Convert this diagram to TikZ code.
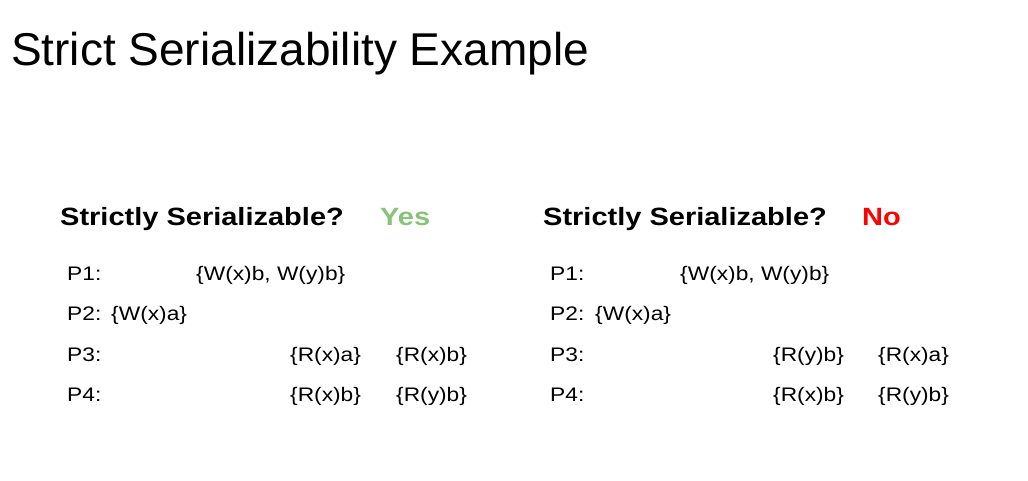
\documentclass[tikz,border=0pt]{standalone}
\usepackage{fontspec}
\setmainfont{Liberation Sans}
\newfontfamily\slidefont[FakeStretch=1.16]{Liberation Sans}
\usetikzlibrary{positioning}
\definecolor[named]{YesGreen}{RGB}{137,194,120}
\definecolor[named]{NoRed}{RGB}{255,0,0}
\tikzset{title/.style ={
		anchor=base west,
		inner sep=0pt,
		font=\fontsize{46}{50}\selectfont,
    },
    question/.style={
		anchor=base west,
		inner sep=0pt,
		font=\slidefont\bfseries\fontsize{25}{28}\selectfont,
    },
    yes/.style={
		question,
		text=YesGreen,
    },
    no/.style={
		question,
		text=NoRed,
    },
    proc/.style ={
		anchor=base west,
		inner sep=0pt,
		font=\slidefont\fontsize{19.6}{22}\selectfont,
    },
    op/.style ={
		proc,
    }}

\begin{document}
\begin{tikzpicture} [x=1pt,y=-1pt]
	\useasboundingbox (0,0) rectangle (1028,480);
	\node[title] (title) at (11,65) {Strict Serializability Example};
	% left history
	\node[question] (qleft) at (60,225.5) {Strictly Serializable?};
	\node[yes] (ansleft) at (380,225.5) {Yes};
	\node[proc] (lp1) at (67,280) {P1:};
	\node[proc] (lp2) at (67,320.5) {P2:};
	\node[proc] (lp3) at (67,361) {P3:};
	\node[proc] (lp4) at (67,401.5) {P4:};
	\node[op] (lw1) at (196,280) {\{W(x)b, W(y)b\}};
	\node[op] (lw2) at (111,320.5) {\{W(x)a\}};
	\node[op] (lr1) at (290,361) {\{R(x)a\}};
	\node[op] (lr2) at (396,361) {\{R(x)b\}};
	\node[op] (lr3) at (290,401.5) {\{R(x)b\}};
	\node[op] (lr4) at (396,401.5) {\{R(y)b\}};
	% right history
	\node[question] (qright) at (543,225.5) {Strictly Serializable?};
	\node[no] (ansright) at (862,225.5) {No};
	\node[proc] (rp1) at (550,280) {P1:};
	\node[proc] (rp2) at (550,320.5) {P2:};
	\node[proc] (rp3) at (550,361) {P3:};
	\node[proc] (rp4) at (550,401.5) {P4:};
	\node[op] (rw1) at (680,280) {\{W(x)b, W(y)b\}};
	\node[op] (rw2) at (595,320.5) {\{W(x)a\}};
	\node[op] (rr1) at (773,361) {\{R(y)b\}};
	\node[op] (rr2) at (878,361) {\{R(x)a\}};
	\node[op] (rr3) at (773,401.5) {\{R(x)b\}};
	\node[op] (rr4) at (878,401.5) {\{R(y)b\}};
\end{tikzpicture}
\end{document}
